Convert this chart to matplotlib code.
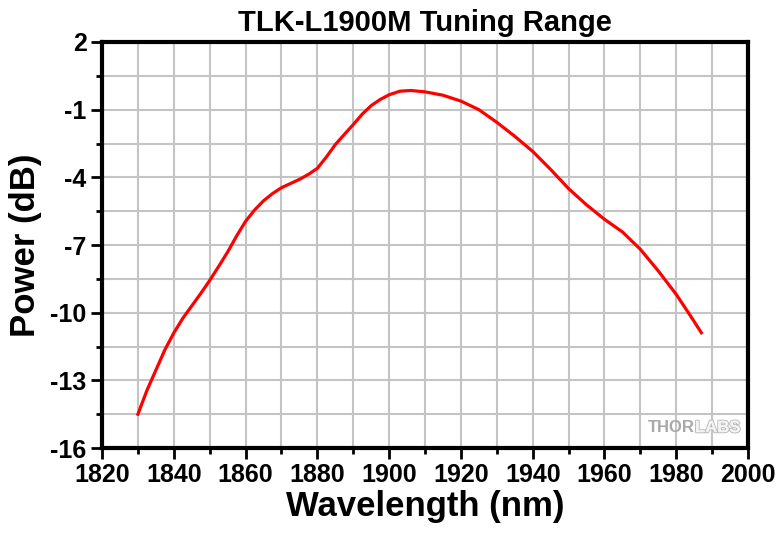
import numpy as np
import matplotlib
matplotlib.use("Agg")
import matplotlib.pyplot as plt
import matplotlib.patheffects as pe
from matplotlib.ticker import MultipleLocator, FixedLocator

plt.rcParams['font.family'] = ['Liberation Sans', 'DejaVu Sans']
plt.rcParams['font.weight'] = 'bold'
plt.rcParams['axes.unicode_minus'] = False

# wavelength (nm) and power (dB)
wavelength = [1830, 1832.5, 1835, 1837.5, 1840, 1842.5, 1845, 1847.5, 1850,
              1852.5, 1855, 1857.5, 1860, 1862.5, 1865, 1867.5, 1870, 1875,
              1877.5, 1880, 1882.5, 1885, 1887.5, 1890, 1892.5, 1895, 1897.5,
              1900, 1903, 1906, 1910, 1915, 1920, 1925, 1930, 1935, 1940, 1945,
              1950, 1955, 1960, 1965, 1970, 1975, 1980, 1984, 1987]
power = [-14.5, -13.45, -12.55, -11.65, -10.9, -10.25, -9.7, -9.15, -8.57,
         -7.95, -7.31, -6.6, -5.95, -5.45, -5.04, -4.72, -4.46, -4.09,
         -3.87, -3.6, -3.1, -2.55, -2.1, -1.66, -1.2, -0.82, -0.55, -0.34,
         -0.18, -0.15, -0.21, -0.36, -0.62, -1.0, -1.56, -2.18, -2.85, -3.65,
         -4.5, -5.22, -5.86, -6.42, -7.19, -8.15, -9.19, -10.15, -10.89]
yticks = [2, -1, -4, -7, -10, -13, -16]

fig = plt.figure(figsize=(7.8, 5.35), dpi=100)
ax = fig.add_axes([0.1308, 0.1626, 0.8282, 0.7589])

ax.plot(wavelength, power, color='#ff0000', lw=2.3, zorder=3,
        solid_joinstyle='round')

ax.set_xlim(1820, 2000)
ax.set_ylim(-16, 2)
ax.xaxis.set_major_locator(MultipleLocator(20))
ax.xaxis.set_minor_locator(MultipleLocator(10))
ax.yaxis.set_major_locator(FixedLocator(yticks))
ax.yaxis.set_minor_locator(MultipleLocator(1.5, offset=0.5))

ax.grid(True, which='both', color='#c4c4c4', lw=1.5, zorder=0)
ax.set_axisbelow(True)

for s in ax.spines.values():
    s.set_linewidth(3)
ax.tick_params(which='major', direction='out', length=8, width=2,
               labelsize=18, pad=3, top=False, right=False)
ax.tick_params(which='minor', direction='out', length=4.5, width=2,
               top=False, right=False)
for lbl in ax.get_xticklabels() + ax.get_yticklabels():
    lbl.set_fontweight('bold')

ax.set_title('TLK-L1900M Tuning Range', fontsize=21, fontweight='bold', pad=8)
ax.set_xlabel('Wavelength (nm)', fontsize=25, fontweight='bold', labelpad=2)
ax.set_ylabel('Power (dB)', fontsize=25, fontweight='bold', labelpad=6)

# watermark
ax.text(0.918, 0.05, 'THOR', transform=ax.transAxes, fontsize=12,
        fontweight='bold', color='#a8a8a8', ha='right', va='center', zorder=1)
ax.text(0.918, 0.05, 'LABS', transform=ax.transAxes, fontsize=12,
        fontweight='bold', color='#f4f4f4', ha='left', va='center', zorder=1,
        path_effects=[pe.withStroke(linewidth=1.5, foreground='#b8b8b8'),
                      pe.Normal()])

fig.savefig('out.png', dpi=100)
